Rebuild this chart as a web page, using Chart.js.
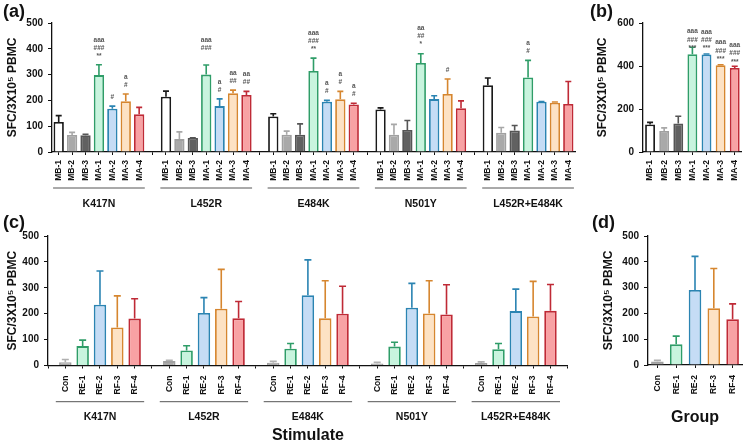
<!DOCTYPE html>
<html><head><meta charset="utf-8">
<script src="https://cdn.jsdelivr.net/npm/chart.js@4.4.1/dist/chart.umd.min.js"></script>
<style>
html,body{margin:0;padding:0;background:#fff;width:750px;height:444px;overflow:hidden;font-family:"Liberation Sans",Arial,sans-serif;}
.p{position:absolute;}
.lbl{position:absolute;font-weight:bold;font-size:18px;line-height:18px;color:#111;}
</style></head><body>
<div class="p" style="left:0;top:0;width:585px;height:215px"><canvas id="ca"></canvas></div>
<div class="p" style="left:585px;top:0;width:165px;height:215px"><canvas id="cb"></canvas></div>
<div class="p" style="left:0;top:215px;width:585px;height:229px"><canvas id="cc"></canvas></div>
<div class="p" style="left:585px;top:215px;width:165px;height:229px"><canvas id="cd"></canvas></div>
<div class="lbl" style="left:3px;top:2px">(a)</div>
<div class="lbl" style="left:590px;top:2px">(b)</div>
<div class="lbl" style="left:3px;top:213px">(c)</div>
<div class="lbl" style="left:592px;top:213px">(d)</div>
<script>
// ---------- DATA ----------
const groups = ['K417N', 'L452R', 'E484K', 'N501Y', 'L452R+E484K'];
const barsA = ['MB-1', 'MB-2', 'MB-3', 'MA-1', 'MA-2', 'MA-3', 'MA-4'];

const aK417N      = [116, 66, 65, 298, 168, 197, 146];
const aK417N_err  = [25, 10, 4, 40, 10, 28, 27];
const aK417N_sig  = ['', '', '', 'aaa|###|**', '#', 'a|#', ''];
const aL452R      = [214, 50, 54, 300, 178, 228, 221];
const aL452R_err  = [22, 28, 1, 37, 28, 12, 14];
const aL452R_sig  = ['', '', '', 'aaa|###|', 'a|#', 'aa|##', 'aa|##'];
const aE484K      = [138, 67, 67, 314, 195, 204, 184];
const aE484K_err  = [10, 14, 42, 50, 5, 31, 5];
const aE484K_sig  = ['', '', '', 'aaa|###|**', 'a|#', 'a|#', 'a|#'];
const aN501Y      = [165, 67, 85, 345, 205, 225, 170];
const aN501Y_err  = [6, 40, 37, 36, 13, 58, 28];
const aN501Y_sig  = ['', '', '', 'aa|##|*', '', '#', ''];
const aDouble     = [259, 75, 83, 289, 195, 191, 186];
const aDouble_err = [28, 20, 20, 66, 1, 3, 87];
const aDouble_sig = ['', '', '', 'a|#', '', '', ''];

const bMean = [128, 98, 133, 455, 454, 404, 391];
const bErr  = [10, 14, 33, 32, 2, 2, 8];
const bSig  = ['', '', '', 'aaa|###|***', 'aaa|###|***', 'aaa|###|***', 'aaa|###|***'];

const barsC = ['Con', 'RE-1', 'RE-2', 'RF-3', 'RF-4'];
const cK417N      = [13, 75, 235, 147, 181];
const cK417N_err  = [10, 23, 130, 122, 77];
const cL452R      = [17, 58, 203, 219, 182];
const cL452R_err  = [3, 18, 59, 152, 65];
const cE484K      = [11, 65, 271, 182, 200];
const cE484K_err  = [5, 20, 137, 145, 106];
const cN501Y      = [8, 73, 223, 201, 197];
const cN501Y_err  = [4, 17, 94, 126, 115];
const cDouble     = [10, 63, 210, 189, 211];
const cDouble_err = [4, 22, 85, 136, 102];

const dMean = [14, 80, 291, 220, 177];
const dErr  = [4, 32, 130, 154, 60];

// ---------- STYLE ----------
const fillA   = ['#ffffff', '#a9a9a9', '#616161', '#c8f4de', '#c5dcf5', '#fde2c4', '#f8a2a4'];
const borderA = ['#1a1a1a', '#a0a0a0', '#555555', '#2f9d68', '#2b84b2', '#d6862f', '#bf2a36'];
const errA    = ['#1a1a1a', '#a8a8a8', '#555555', '#2f9d68', '#2b84b2', '#d6862f', '#bf2a36'];
const fillC   = ['#a9a9a9', '#c8f4de', '#c5dcf5', '#fde2c4', '#f8a2a4'];
const borderC = ['#a0a0a0', '#2f9d68', '#2b84b2', '#d6862f', '#bf2a36'];
const errC    = ['#b0b0b0', '#2f9d68', '#2b84b2', '#d6862f', '#bf2a36'];

Chart.defaults.font.family = "'Liberation Sans', Arial, sans-serif";
Chart.defaults.color = '#111';
Chart.defaults.animation = false;

// ---------- BUILD ----------
function build(groupVals, groupErrs, groupSigs, names, fills, borders, errs, lead) {
  const labels = [], data = [], err = [], sig = [], bg = [], bc = [], ec = [], grp = [];
  if (lead) { labels.push(''); data.push(null); err.push(0); sig.push(''); bg.push('#fff'); bc.push('#fff'); ec.push('#fff'); }
  groupVals.forEach((vals, g) => {
    const first = labels.length;
    vals.forEach((v, i) => {
      labels.push(names[i]); data.push(v); err.push(groupErrs[g][i]);
      sig.push(groupSigs ? groupSigs[g][i] : '');
      bg.push(fills[i]); bc.push(borders[i]); ec.push(errs[i]);
    });
    grp.push({ name: groups[g], first, last: labels.length - 1 });
    if (g < groupVals.length - 1 || lead) { labels.push(''); data.push(null); err.push(0); sig.push(''); bg.push('#fff'); bc.push('#fff'); ec.push('#fff'); }
  });
  return { labels, data, err, sig, bg, bc, ec, grp };
}

const extras = {
  id: 'extras',
  afterDatasetsDraw(chart) {
    const o = chart.options.plugins.extras; if (!o) return;
    const ctx = chart.ctx, xs = chart.scales.x, ys = chart.scales.y;
    const data = chart.data.datasets[0].data;
    const slot = Math.abs(xs.getPixelForValue(1) - xs.getPixelForValue(0));
    ctx.save();
    data.forEach((v, i) => {
      if (v == null) return;
      const e = o.err[i] || 0;
      const x = xs.getPixelForValue(i);
      const y0 = ys.getPixelForValue(v), y1 = ys.getPixelForValue(v + e);
      if (e > 0) {
        ctx.strokeStyle = o.errColor[i]; ctx.lineWidth = 1.6;
        ctx.beginPath(); ctx.moveTo(x, y0); ctx.lineTo(x, y1);
        ctx.moveTo(x - o.cap, y1); ctx.lineTo(x + o.cap, y1); ctx.stroke();
      }
      const s = o.sig && o.sig[i];
      if (s) {
        const lines = s.split('|');
        ctx.fillStyle = '#555'; ctx.font = o.sigFont; ctx.textAlign = 'center'; ctx.textBaseline = 'middle';
        let y = (o.sigFromBar ? y0 : Math.min(y0, y1)) - o.sigGap;
        for (let k = lines.length - 1; k >= 0; k--) { if (lines[k]) ctx.fillText(lines[k], x, y); y -= o.sigStep; }
      }
    });
    if (o.groups) {
      ctx.strokeStyle = '#555'; ctx.lineWidth = 1;
      ctx.fillStyle = '#111'; ctx.font = "bold 10.5px 'Liberation Sans', Arial, sans-serif";
      ctx.textAlign = 'center'; ctx.textBaseline = 'middle';
      o.groups.forEach(g => {
        const x1 = xs.getPixelForValue(g.first) - slot * o.ext, x2 = xs.getPixelForValue(g.last) + slot * o.ext;
        ctx.beginPath(); ctx.moveTo(x1, o.lineY); ctx.lineTo(x2, o.lineY); ctx.stroke();
        ctx.fillText(g.name, (x1 + x2) / 2, o.nameY);
      });
    }
    ctx.restore();
  }
};

function makeChart(id, b, cfg) {
  return new Chart(document.getElementById(id), {
    type: 'bar',
    data: { labels: b.labels, datasets: [{ data: b.data, backgroundColor: b.bg, borderColor: b.bc, borderWidth: 1.8,
      barPercentage: cfg.barPct, categoryPercentage: 1 }] },
    options: {
      responsive: true, maintainAspectRatio: false, devicePixelRatio: 1, animation: false,
      layout: { padding: cfg.pad },
      plugins: { legend: { display: false }, tooltip: { enabled: false },
        extras: { err: b.err, errColor: b.ec, sig: b.sig, cap: cfg.cap, sigFont: "bold 6.5px 'Liberation Sans', Arial, sans-serif",
          sigGap: cfg.sigGap || 9, sigStep: cfg.sigStep || 8, sigFromBar: cfg.sigFromBar,
          groups: cfg.groups ? b.grp : null, lineY: cfg.lineY, nameY: cfg.nameY, ext: cfg.ext } },
      scales: {
        x: {
          type: 'category', offset: cfg.offset,
          grid: { display: true, drawOnChartArea: false, drawTicks: true, tickLength: 3, color: '#111', offset: false },
          border: { display: true, color: '#111', width: 1.3 },
          ticks: { autoSkip: false, maxRotation: 90, minRotation: 90, padding: cfg.xPad, color: '#111',
            font: { size: 8.5, weight: 'bold' } },
          title: cfg.xTitle ? { display: true, text: cfg.xTitle, color: '#111', font: { size: 16, weight: 'bold', lineHeight: 1 },
            padding: { top: 0, bottom: cfg.xTitlePad } } : { display: false },
          afterFit: s => { s.height = cfg.xH; }
        },
        y: {
          min: 0, max: cfg.yMax,
          ticks: { stepSize: cfg.step, padding: 5, color: '#111', font: { size: 10, weight: 'bold' } },
          grid: { display: true, drawOnChartArea: false, tickLength: 4, color: '#111' },
          border: { display: true, color: '#111', width: 1.3 },
          title: { display: true, text: 'SFC/3X10⁵ PBMC', color: '#111', font: { size: 12, weight: 'bold' },
            padding: { top: cfg.yTitlePad, bottom: 0 } },
          afterFit: s => { s.width = cfg.yW; }
        }
      }
    },
    plugins: [extras]
  });
}

const A = build([aK417N, aL452R, aE484K, aN501Y, aDouble],
                [aK417N_err, aL452R_err, aE484K_err, aN501Y_err, aDouble_err],
                [aK417N_sig, aL452R_sig, aE484K_sig, aN501Y_sig, aDouble_sig],
                barsA, fillA, borderA, errA, false);
makeChart('ca', A, { barPct: 0.77, cap: 3, pad: { top: 23, right: 10, left: 0, bottom: 0 }, offset: true,
  xPad: 5, xH: 63, yMax: 500, step: 100, yW: 52, yTitlePad: 5, groups: true, lineY: 188, nameY: 204, ext: 0.42 });

const B = build([bMean], [bErr], [bSig], barsA, fillA, borderA, errA, false);
makeChart('cb', B, { barPct: 0.7, cap: 3, pad: { top: 23, right: 1, left: 0, bottom: 0 }, offset: true,
  xPad: 5, xH: 63, yMax: 600, step: 200, yW: 58, yTitlePad: 10, sigFromBar: true, sigGap: 6, sigStep: 8.3 });

const C = build([cK417N, cL452R, cE484K, cN501Y, cDouble],
                [cK417N_err, cL452R_err, cE484K_err, cN501Y_err, cDouble_err],
                null, barsC, fillC, borderC, errC, true);
makeChart('cc', C, { barPct: 0.72, cap: 3.5, pad: { top: 21, right: 8, left: 0, bottom: 0 }, offset: false,
  xPad: 7, xH: 78.5, yMax: 500, step: 100, yW: 48, yTitlePad: 5, groups: true, lineY: 186.7, nameY: 201.7, ext: 0.55,
  xTitle: 'Stimulate', xTitlePad: 0 });

const D = build([dMean], [dErr], null, barsC, fillC, borderC, errC, false);
makeChart('cd', D, { barPct: 0.67, cap: 3.5, pad: { top: 21, right: 2, left: 0, bottom: 0 }, offset: true,
  xPad: 7, xH: 79, yMax: 500, step: 100, yW: 63, yTitlePad: 16, xTitle: 'Group', xTitlePad: 18.5 });
</script>
</body></html>
